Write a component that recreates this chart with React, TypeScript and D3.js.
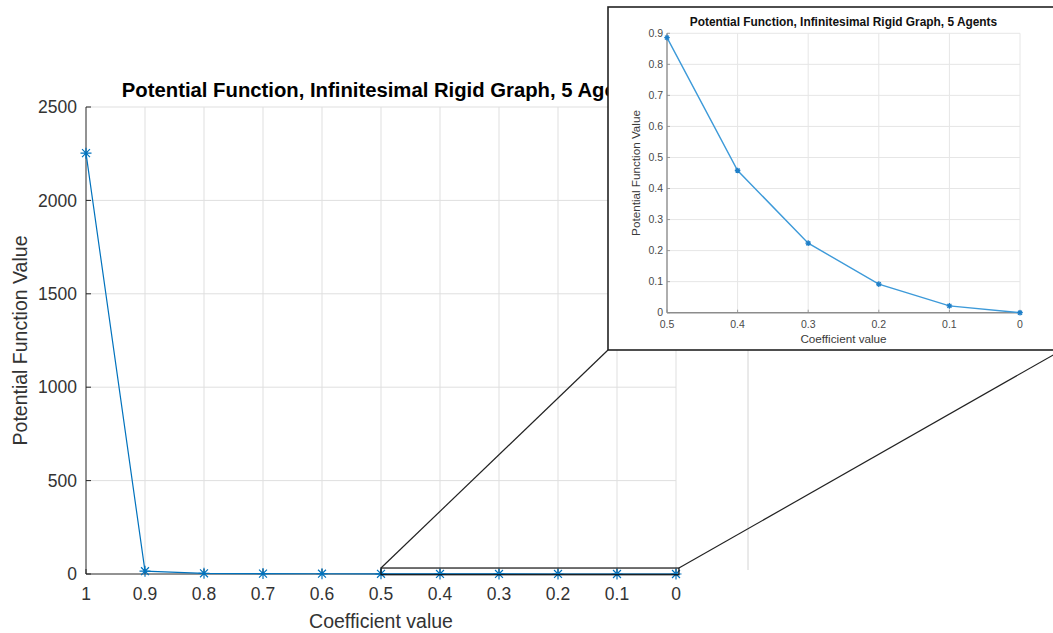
import React from "react";
import * as d3 from "d3";

// Coefficient sweep and the potential function evaluated at each step
const coefficients = [1, 0.9, 0.8, 0.7, 0.6, 0.5, 0.4, 0.3, 0.2, 0.1, 0];
const potentialValues = [2253, 15, 3.6, 2.1, 1.4, 0.886, 0.458, 0.224, 0.092, 0.022, 0];

// Detail view: the tail of the sweep
const detailCoefficients = [0.5, 0.4, 0.3, 0.2, 0.1, 0];
const detailValues = [0.886, 0.458, 0.224, 0.092, 0.022, 0];

const mainXTicks = [1, 0.9, 0.8, 0.7, 0.6, 0.5, 0.4, 0.3, 0.2, 0.1, 0];
const mainYTicks = [0, 500, 1000, 1500, 2000, 2500];
const detailXTicks = [0.5, 0.4, 0.3, 0.2, 0.1, 0];
const detailYTicks = [0, 0.1, 0.2, 0.3, 0.4, 0.5, 0.6, 0.7, 0.8, 0.9];

// Region of the main axes that the detail view magnifies
const zoomXRange = [0.5, -0.005];
const zoomYRange = [-4, 32];

const TITLE = "Potential Function, Infinitesimal Rigid Graph, 5 Agents";
const X_LABEL = "Coefficient value";
const Y_LABEL = "Potential Function Value";

const FONT = "'Liberation Sans', Arial, Helvetica, sans-serif";
const BLUE = "#0072BD";

function asterisk(r: number) {
  const d = r * 0.72;
  return `M${-r},0L${r},0M0,${-r}L0,${r}M${-d},${-d}L${d},${d}M${-d},${d}L${d},${-d}`;
}

export default function App() {
  const W = 1053;
  const H = 633;

  // main axes
  const m = { left: 86, right: 676, top: 107, bottom: 574 };
  const x = d3.scaleLinear().domain([1, 0]).range([m.left, m.right]);
  const y = d3.scaleLinear().domain([0, 2500]).range([m.bottom, m.top]);
  const mainLine = d3
    .line<number>()
    .x((_, i) => x(coefficients[i]))
    .y((v) => y(v));

  // detail axes
  const dm = { left: 667, right: 1020, top: 33.3, bottom: 312.7 };
  const dx = d3.scaleLinear().domain([0.5, 0]).range([dm.left, dm.right]);
  const dy = d3.scaleLinear().domain([0, 0.9]).range([dm.bottom, dm.top]);
  const detailLine = d3
    .line<number>()
    .x((_, i) => dx(detailCoefficients[i]))
    .y((v) => dy(v));

  // inset frame
  const inset = { left: 608, top: 7, right: 1062, bottom: 350 };

  const zx0 = x(zoomXRange[0]);
  const zx1 = x(zoomXRange[1]);
  const zy0 = y(zoomYRange[1]);
  const zy1 = y(zoomYRange[0]);

  return (
    <svg
      width={W}
      height={H}
      style={{ position: "absolute", left: 0, top: 0, background: "#fff" }}
      fontFamily={FONT}
    >
      <rect x={0} y={0} width={W} height={H} fill="#fff" />

      {/* main grid */}
      <g stroke="#dfdfdf" strokeWidth={1}>
        {mainXTicks.slice(1).map((t) => (
          <line key={"gx" + t} x1={x(t)} x2={x(t)} y1={m.top} y2={m.bottom} />
        ))}
        {mainYTicks.slice(1).map((t) => (
          <line key={"gy" + t} x1={m.left} x2={m.right} y1={y(t)} y2={y(t)} />
        ))}
      </g>
      <line x1={748} x2={748} y1={350} y2={570} stroke="#d4d4d4" strokeWidth={1} />

      {/* main axes */}
      <g stroke="#262626" strokeWidth={1}>
        <line x1={m.left} x2={m.left} y1={m.top} y2={m.bottom} />
        <line x1={m.left} x2={m.right} y1={m.bottom} y2={m.bottom} />
        {mainXTicks.map((t) => (
          <line key={"tx" + t} x1={x(t)} x2={x(t)} y1={m.bottom} y2={m.bottom - 5} />
        ))}
        {mainYTicks.map((t) => (
          <line key={"ty" + t} x1={m.left} x2={m.left + 5} y1={y(t)} y2={y(t)} />
        ))}
      </g>
      <g fill="#333" fontSize={17.5}>
        {mainXTicks.map((t) => (
          <text key={"lx" + t} x={x(t)} y={m.bottom + 26} textAnchor="middle">
            {String(t)}
          </text>
        ))}
        {mainYTicks.map((t) => (
          <text key={"ly" + t} x={m.left - 9} y={y(t)} dy="0.35em" textAnchor="end">
            {String(t)}
          </text>
        ))}
      </g>
      <text x={(m.left + m.right) / 2} y={628} textAnchor="middle" fontSize={19.5} fill="#333">
        {X_LABEL}
      </text>
      <text
        transform={`translate(27,${(m.top + m.bottom) / 2}) rotate(-90)`}
        textAnchor="middle"
        fontSize={19.5}
        fill="#333"
      >
        {Y_LABEL}
      </text>
      <text x={384} y={97} textAnchor="middle" fontSize={20.3} fontWeight="bold" fill="#000">
        {TITLE}
      </text>

      {/* main series */}
      <path d={mainLine(potentialValues) || ""} fill="none" stroke={BLUE} strokeWidth={1.2} />
      <g stroke={BLUE} strokeWidth={1.2} fill="none">
        {potentialValues.map((v, i) => (
          <path
            key={"m" + i}
            d={asterisk(5.5)}
            transform={`translate(${x(coefficients[i])},${y(v)})`}
          />
        ))}
      </g>

      {/* magnified region and connectors */}
      <rect x={zx0} y={zy0} width={zx1 - zx0} height={zy1 - zy0} fill="none" stroke="#111" strokeWidth={1.2} />
      <line x1={zx0} y1={zy0} x2={inset.left} y2={inset.bottom} stroke="#222" strokeWidth={1.2} />
      <line x1={zx1} y1={zy0} x2={inset.right} y2={inset.bottom} stroke="#222" strokeWidth={1.2} />

      {/* inset */}
      <rect
        x={inset.left}
        y={inset.top}
        width={inset.right - inset.left}
        height={inset.bottom - inset.top}
        fill="#fff"
        stroke="#222"
        strokeWidth={1.6}
      />
      <g stroke="#e6e6e6" strokeWidth={1}>
        {detailXTicks.slice(1).map((t) => (
          <line key={"dgx" + t} x1={dx(t)} x2={dx(t)} y1={dm.top} y2={dm.bottom} />
        ))}
        {detailYTicks.slice(1).map((t) => (
          <line key={"dgy" + t} x1={dm.left} x2={dm.right} y1={dy(t)} y2={dy(t)} />
        ))}
      </g>
      <g stroke="#8c8c8c" strokeWidth={1.4}>
        <line x1={dm.left} x2={dm.left} y1={dm.top} y2={dm.bottom} />
        <line x1={dm.left} x2={dm.right} y1={dm.bottom} y2={dm.bottom} />
      </g>
      <g stroke="#8c8c8c" strokeWidth={0.8}>
        {detailXTicks.map((t) => (
          <line key={"dtx" + t} x1={dx(t)} x2={dx(t)} y1={dm.bottom} y2={dm.bottom - 3} />
        ))}
        {detailYTicks.map((t) => (
          <line key={"dty" + t} x1={dm.left} x2={dm.left + 3} y1={dy(t)} y2={dy(t)} />
        ))}
      </g>
      <g fill="#4a4a4a" fontSize={10.5}>
        {detailXTicks.map((t) => (
          <text key={"dlx" + t} x={dx(t)} y={dm.bottom + 15} textAnchor="middle">
            {String(t)}
          </text>
        ))}
        {detailYTicks.map((t) => (
          <text key={"dly" + t} x={dm.left - 4} y={dy(t)} dy="0.35em" textAnchor="end">
            {String(t)}
          </text>
        ))}
      </g>
      <text x={(dm.left + dm.right) / 2} y={343} textAnchor="middle" fontSize={11.7} fill="#3a3a3a">
        {X_LABEL}
      </text>
      <text
        transform={`translate(640,${(dm.top + dm.bottom) / 2}) rotate(-90)`}
        textAnchor="middle"
        fontSize={11.7}
        fill="#3a3a3a"
      >
        {Y_LABEL}
      </text>
      <text x={(dm.left + dm.right) / 2} y={26} textAnchor="middle" fontSize={11.9} fontWeight="bold" fill="#111">
        {TITLE}
      </text>
      <path d={detailLine(detailValues) || ""} fill="none" stroke="#3d9ad9" strokeWidth={1.4} />
      <g stroke="#1f7fc8" strokeWidth={1.3} fill="none">
        {detailValues.map((v, i) => (
          <path
            key={"d" + i}
            d={asterisk(2.8)}
            transform={`translate(${dx(detailCoefficients[i])},${dy(v)})`}
          />
        ))}
      </g>
    </svg>
  );
}
